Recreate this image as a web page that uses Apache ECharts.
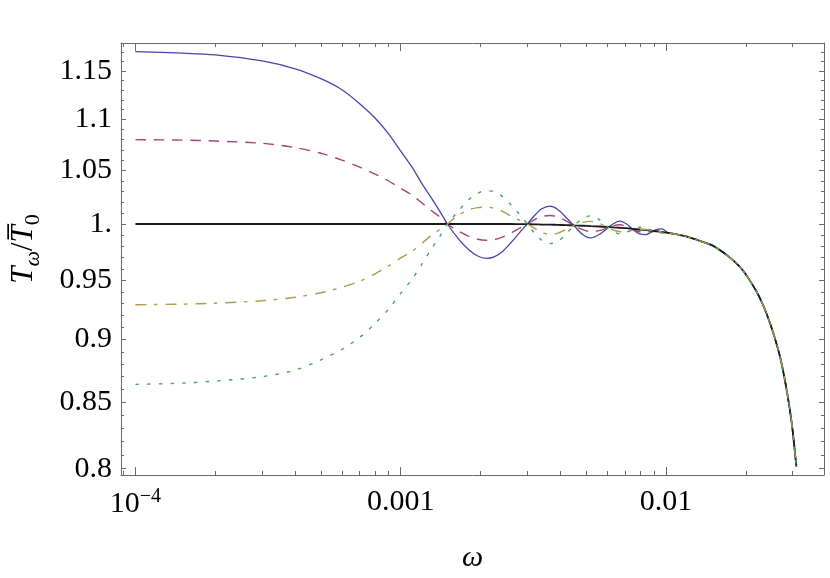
<!DOCTYPE html>
<html><head><meta charset="utf-8">
<script src="https://cdn.jsdelivr.net/npm/echarts@6/dist/echarts.min.js"></script>
<style>html,body{margin:0;padding:0;background:#fff}#c{width:830px;height:578px}</style>
</head><body><div id="c"></div>
<script>
// ---- data ----
const omega = [1e-4, 1.5e-4, 2e-4, 3e-4, 4e-4, 5e-4, 6e-4, 7e-4, 8e-4, 9e-4,
  1.0e-3, 1.1e-3, 1.2e-3, 1.3e-3, 1.4e-3, 1.5e-3, 1.65e-3, 1.8e-3, 1.95e-3, 2.1e-3,
  2.25e-3, 2.4e-3, 2.6e-3, 2.8e-3, 3.0e-3, 3.2e-3, 3.4e-3, 3.65e-3, 3.9e-3, 4.2e-3,
  4.5e-3, 4.85e-3, 5.2e-3, 5.6e-3, 6.0e-3, 6.35e-3, 6.7e-3, 7.1e-3, 7.5e-3, 7.95e-3,
  8.4e-3, 8.8e-3, 9.2e-3, 9.65e-3,
  0.0102, 0.011, 0.012, 0.0135, 0.015, 0.0165, 0.018, 0.0195, 0.021, 0.0225,
  0.024, 0.0255, 0.027, 0.0285, 0.0298, 0.031];

const valuesBlue = [1.1703, 1.1687, 1.1668, 1.1604, 1.1521, 1.1417, 1.1303, 1.1160, 1.1015, 1.0857,
  1.0687, 1.0537, 1.0377, 1.0246, 1.0121, 1.0000, 0.9865, 0.9770, 0.9712, 0.9692,
  0.9705, 0.9745, 0.9830, 0.9920, 1.0000, 1.0080, 1.0140, 1.0164, 1.0135, 1.0060,
  0.9985, 0.9905, 0.9874, 0.9905, 0.9960, 1.0005, 1.0027, 1.0000, 0.9950, 0.9910,
  0.9903, 0.9925, 0.9948, 0.9955,
  0.9920, 0.9905, 0.9885, 0.9845, 0.9805, 0.9741, 0.9669, 0.9585, 0.9475, 0.9355,
  0.9208, 0.9038, 0.8845, 0.8594, 0.8333, 0.8014];

const valuesMagenta = [1.0800, 1.0795, 1.0786, 1.0764, 1.0722, 1.0667, 1.0600, 1.0533, 1.0466, 1.0400,
  1.0331, 1.0269, 1.0195, 1.0126, 1.0066, 1.0000, 0.9935, 0.9890, 0.9862, 0.9853,
  0.9858, 0.9878, 0.9917, 0.9960, 1.0000, 1.0040, 1.0068, 1.0078, 1.0065, 1.0028,
  0.9987, 0.9948, 0.9930, 0.9940, 0.9965, 0.9985, 0.9993, 0.9978, 0.9950, 0.9930,
  0.9925, 0.9930, 0.9935, 0.9932,
  0.9920, 0.9905, 0.9885, 0.9845, 0.9805, 0.9741, 0.9669, 0.9585, 0.9475, 0.9355,
  0.9208, 0.9038, 0.8845, 0.8594, 0.8333, 0.8014];

const valuesOlive = [0.9290, 0.9295, 0.9303, 0.9324, 0.9354, 0.9392, 0.9439, 0.9491, 0.9556, 0.9625,
  0.9695, 0.9752, 0.9823, 0.9895, 0.9948, 1.0000, 1.0080, 1.0130, 1.0150, 1.0155,
  1.0145, 1.0120, 1.0075, 1.0035, 1.0000, 0.9960, 0.9925, 0.9905, 0.9915, 0.9950,
  0.9987, 1.0015, 1.0024, 1.0005, 0.9972, 0.9945, 0.9930, 0.9930, 0.9945, 0.9950,
  0.9950, 0.9942, 0.9932, 0.9928,
  0.9920, 0.9905, 0.9885, 0.9845, 0.9805, 0.9741, 0.9669, 0.9585, 0.9475, 0.9355,
  0.9208, 0.9038, 0.8845, 0.8594, 0.8333, 0.8014];

const valuesGreen = [0.8639, 0.8649, 0.8665, 0.8700, 0.8752, 0.8835, 0.8919, 0.9017, 0.9133, 0.9253,
  0.9388, 0.9504, 0.9638, 0.9770, 0.9881, 1.0000, 1.0120, 1.0222, 1.0285, 1.0308,
  1.0300, 1.0260, 1.0180, 1.0090, 1.0000, 0.9915, 0.9853, 0.9823, 0.9840, 0.9910,
  0.9985, 1.0050, 1.0075, 1.0040, 0.9980, 0.9930, 0.9910, 0.9925, 0.9955, 0.9970,
  0.9965, 0.9945, 0.9925, 0.9918,
  0.9920, 0.9905, 0.9885, 0.9845, 0.9805, 0.9741, 0.9669, 0.9585, 0.9475, 0.9355,
  0.9208, 0.9038, 0.8845, 0.8594, 0.8333, 0.8014];

const valuesBlack = [1.0000, 1.0000, 1.0000, 1.0000, 1.0000, 1.0000, 1.0000, 1.0000, 1.0000, 1.0000,
  1.0000, 1.0000, 1.0000, 1.0000, 1.0000, 1.0000, 1.0000, 1.0000, 1.0000, 1.0000,
  1.0000, 1.0000, 1.0000, 0.9999, 0.9998, 0.9997, 0.9995, 0.9994, 0.9992, 0.9990,
  0.9987, 0.9984, 0.9980, 0.9977, 0.9973, 0.9969, 0.9966, 0.9962, 0.9956, 0.9950,
  0.9945, 0.9940, 0.9934, 0.9928,
  0.9920, 0.9905, 0.9885, 0.9845, 0.9805, 0.9741, 0.9669, 0.9585, 0.9475, 0.9355,
  0.9208, 0.9038, 0.8845, 0.8594, 0.8333, 0.8014];

const xMajorTicks = [1e-4, 1e-3, 1e-2];
const xTickLabels = ['10^−4', '0.001', '0.01'];
const xMinorTicks = [9e-5, 2e-4, 3e-4, 4e-4, 5e-4, 6e-4, 7e-4, 8e-4, 9e-4,
  2e-3, 3e-3, 4e-3, 5e-3, 6e-3, 7e-3, 8e-3, 9e-3, 2e-2, 3e-2];
const yMajorTicks = [0.8, 0.85, 0.9, 0.95, 1.0, 1.05, 1.1, 1.15];
const yTickLabels = ['0.8', '0.85', '0.9', '0.95', '1.', '1.05', '1.1', '1.15'];
const yMinorTicks = [0.81, 0.82, 0.83, 0.84, 0.86, 0.87, 0.88, 0.89, 0.91, 0.92, 0.93, 0.94,
  0.96, 0.97, 0.98, 0.99, 1.01, 1.02, 1.03, 1.04, 1.06, 1.07, 1.08, 1.09,
  1.11, 1.12, 1.13, 1.14, 1.16, 1.17];

// ---- layout ----
const L = Math.log10;
const lxMin = -4.0545, lxMax = -1.4045;
const lyMin = -0.09943, lyMax = 0.07170;
const FONT = '"Liberation Serif", "Times New Roman", serif';
const frameColor = '#6a6a6a';

function findLabel(ticks, labels, v) {
  for (let i = 0; i < ticks.length; i++) if (Math.abs(L(ticks[i]) - v) < 1e-6) return labels[i];
  return '';
}
function xFmt(v) {
  const s = findLabel(xMajorTicks, xTickLabels, v);
  if (s.indexOf('^') >= 0) { const p = s.split('^'); return '{n|' + p[0] + '}{s|' + p[1] + '}'; }
  return '{n|' + s + '}';
}
function yFmt(v) { return findLabel(yMajorTicks, yTickLabels, v); }

function helperAxis(dim, pos, ticks, len, showLine, label) {
  const ax = {
    type: 'value', position: pos, gridIndex: 0,
    min: dim === 'x' ? lxMin : lyMin, max: dim === 'x' ? lxMax : lyMax,
    axisLine: { show: showLine, onZero: false, lineStyle: { color: frameColor, width: 1 } },
    axisTick: { show: true, inside: true, length: len, customValues: ticks.map(L),
      lineStyle: { color: frameColor, width: 1 } },
    axisLabel: { show: false },
    splitLine: { show: false }
  };
  if (label) ax.axisLabel = label;
  return ax;
}

const xLabel = {
  show: true, customValues: xMajorTicks.map(L), formatter: xFmt, margin: 12,
  rich: {
    n: { fontFamily: FONT, fontSize: 30, color: '#000', verticalAlign: 'bottom' },
    s: { fontFamily: FONT, fontSize: 20, color: '#000', verticalAlign: 'bottom', padding: [0, 0, 12, 0] }
  }
};
const yLabel = {
  show: true, customValues: yMajorTicks.map(L), formatter: yFmt, margin: 9,
  fontFamily: FONT, fontSize: 30, color: '#000'
};

const xAxes = [
  { type: 'log', logBase: 10, min: Math.pow(10, lxMin), max: Math.pow(10, lxMax), show: false, gridIndex: 0,
    axisLine: { onZero: false } },
  Object.assign(helperAxis('x', 'bottom', xMajorTicks, 8, true, xLabel), {
    name: 'ω', nameLocation: 'middle', nameGap: 68,
    nameTextStyle: { fontFamily: FONT, fontStyle: 'italic', fontSize: 30, color: '#000' }
  }),
  helperAxis('x', 'bottom', xMinorTicks, 4, false),
  helperAxis('x', 'top', xMajorTicks, 8, true),
  helperAxis('x', 'top', xMinorTicks, 4, false)
];
const yAxes = [
  { type: 'log', logBase: 10, min: Math.pow(10, lyMin), max: Math.pow(10, lyMax), show: false, gridIndex: 0,
    axisLine: { onZero: false } },
  Object.assign(helperAxis('y', 'left', yMajorTicks, 5, true, yLabel), {
    name: '{i|T}{sb|ω}{u|/}{i|T\u0305}{s0|0}', nameLocation: 'middle', nameGap: 77, nameRotate: 90,
    nameTextStyle: {
      padding: [0, 0, 0, 20],
      rich: {
        i: { fontFamily: FONT, fontStyle: 'italic', fontSize: 31, color: '#000', verticalAlign: 'bottom', padding: [0, 0, 5, 0] },
        u: { fontFamily: FONT, fontSize: 31, color: '#000', verticalAlign: 'bottom', padding: [0, 0, 5, 0] },
        sb: { fontFamily: FONT, fontStyle: 'italic', fontSize: 22, color: '#000', verticalAlign: 'bottom' },
        s0: { fontFamily: FONT, fontSize: 22, color: '#000', verticalAlign: 'bottom' }
      }
    }
  }),
  helperAxis('y', 'left', yMinorTicks, 3, false),
  helperAxis('y', 'right', yMajorTicks, 5, true),
  helperAxis('y', 'right', yMinorTicks, 3, false)
];

function mk(name, vals, color, width, type, z) {
  return {
    type: 'line', name: name, xAxisIndex: 0, yAxisIndex: 0, z: z,
    data: omega.map((w, i) => [w, vals[i]]),
    showSymbol: false, symbol: 'none', smooth: 0.3, silent: true,
    lineStyle: { color: color, width: width, type: type }
  };
}

const chart = echarts.init(document.getElementById('c'), null, { renderer: 'canvas' });
chart.setOption({
  animation: false,
  backgroundColor: '#fff',
  grid: { left: 119, right: 6, top: 43, bottom: 100, containLabel: false },
  xAxis: xAxes,
  yAxis: yAxes,
  series: [
    mk('blue', valuesBlue, '#4646a8', 1.3, 'solid', 2),
    mk('magenta', valuesMagenta, '#a3437c', 1.4, [10.5, 7.8], 3),
    mk('black', valuesBlack, '#1a1a1a', 1.8, 'solid', 4),
    mk('olive', valuesOlive, '#ad9c4c', 1.4, [11, 7.5, 3.5, 8], 5),
    mk('green', valuesGreen, '#4aa462', 1.4, [3.5, 8.2], 6)
  ]
});
</script>
</body></html>
